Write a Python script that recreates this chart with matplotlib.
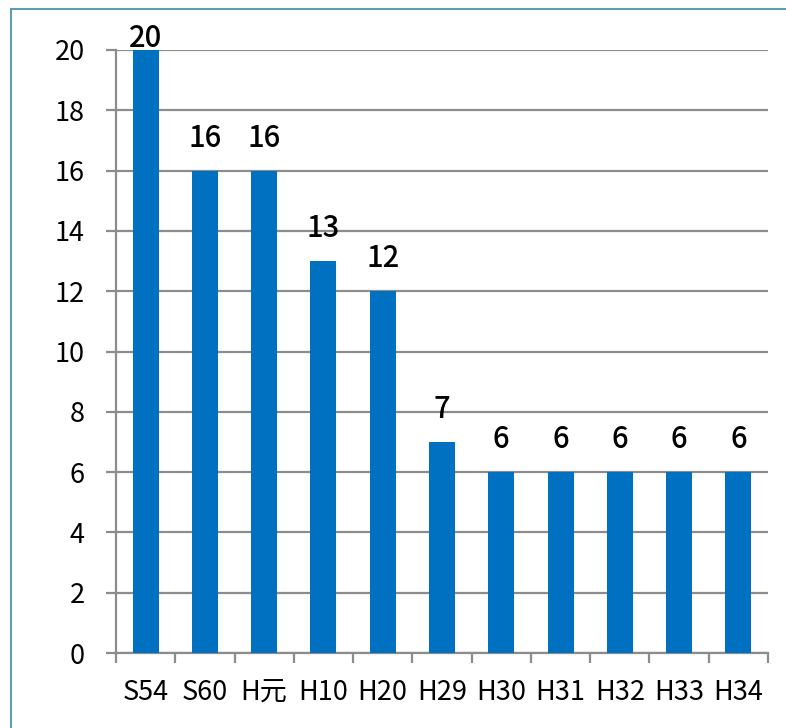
import matplotlib.pyplot as plt
import numpy as np
from matplotlib.patches import Rectangle

plt.rcParams['font.family'] = ['Noto Sans CJK JP', 'DejaVu Sans']

# years (showa / heisei) and counts
labels = ['S54', 'S60', 'H元', 'H10', 'H20', 'H29', 'H30', 'H31', 'H32', 'H33', 'H34']
counts = [20, 16, 16, 13, 12, 7, 6, 6, 6, 6, 6]

bar_color = '#0070C0'
grid_color = '#8c8c8c'

fig = plt.figure(figsize=(7.86, 7.28), dpi=100)
ax = fig.add_axes([116/786, 1 - 653/728, (768-116)/786, (653-50)/728])

x = np.arange(len(labels))
ax.bar(x, counts, width=0.44, color=bar_color, zorder=3)

ax.set_xlim(-0.5, len(labels) - 0.5)
ax.set_ylim(0, 20)
ax.set_yticks(np.arange(0, 21, 2))
ax.yaxis.grid(True, color=grid_color, linewidth=1.6)
ax.set_axisbelow(True)

for s in ['top', 'right']:
    ax.spines[s].set_visible(False)
for s in ['left', 'bottom']:
    ax.spines[s].set_color(grid_color)
    ax.spines[s].set_linewidth(1.6)

# category labels at centres, tick marks between categories
ax.set_xticks(x)
ax.set_xticklabels(labels)
ax.set_xticks(np.arange(-0.5, len(labels)), minor=True)
ax.tick_params(axis='x', which='major', length=0, pad=19, labelsize=19.5)
ax.tick_params(axis='x', which='minor', length=7.5, width=1.6, color=grid_color)
ax.tick_params(axis='y', length=7.5, width=1.6, color=grid_color, pad=15, labelsize=19.5)

# value labels above bars (top one pulled down to stay inside the frame)
for xi, v in zip(x, counts):
    off = 17 if v < max(counts) else -4
    ax.annotate(str(v), (xi, v), xytext=(0, off), textcoords='offset pixels',
                ha='center', va='bottom', fontsize=21, fontweight='medium',
                annotation_clip=False, zorder=4)

# outer frame line
fig.add_artist(Rectangle((11/786, -0.1), 1.2, 1.1 - 9/728, transform=fig.transFigure,
                         fill=False, edgecolor='#5b9fb0', linewidth=1.5))

fig.savefig('out.png', dpi=100)
